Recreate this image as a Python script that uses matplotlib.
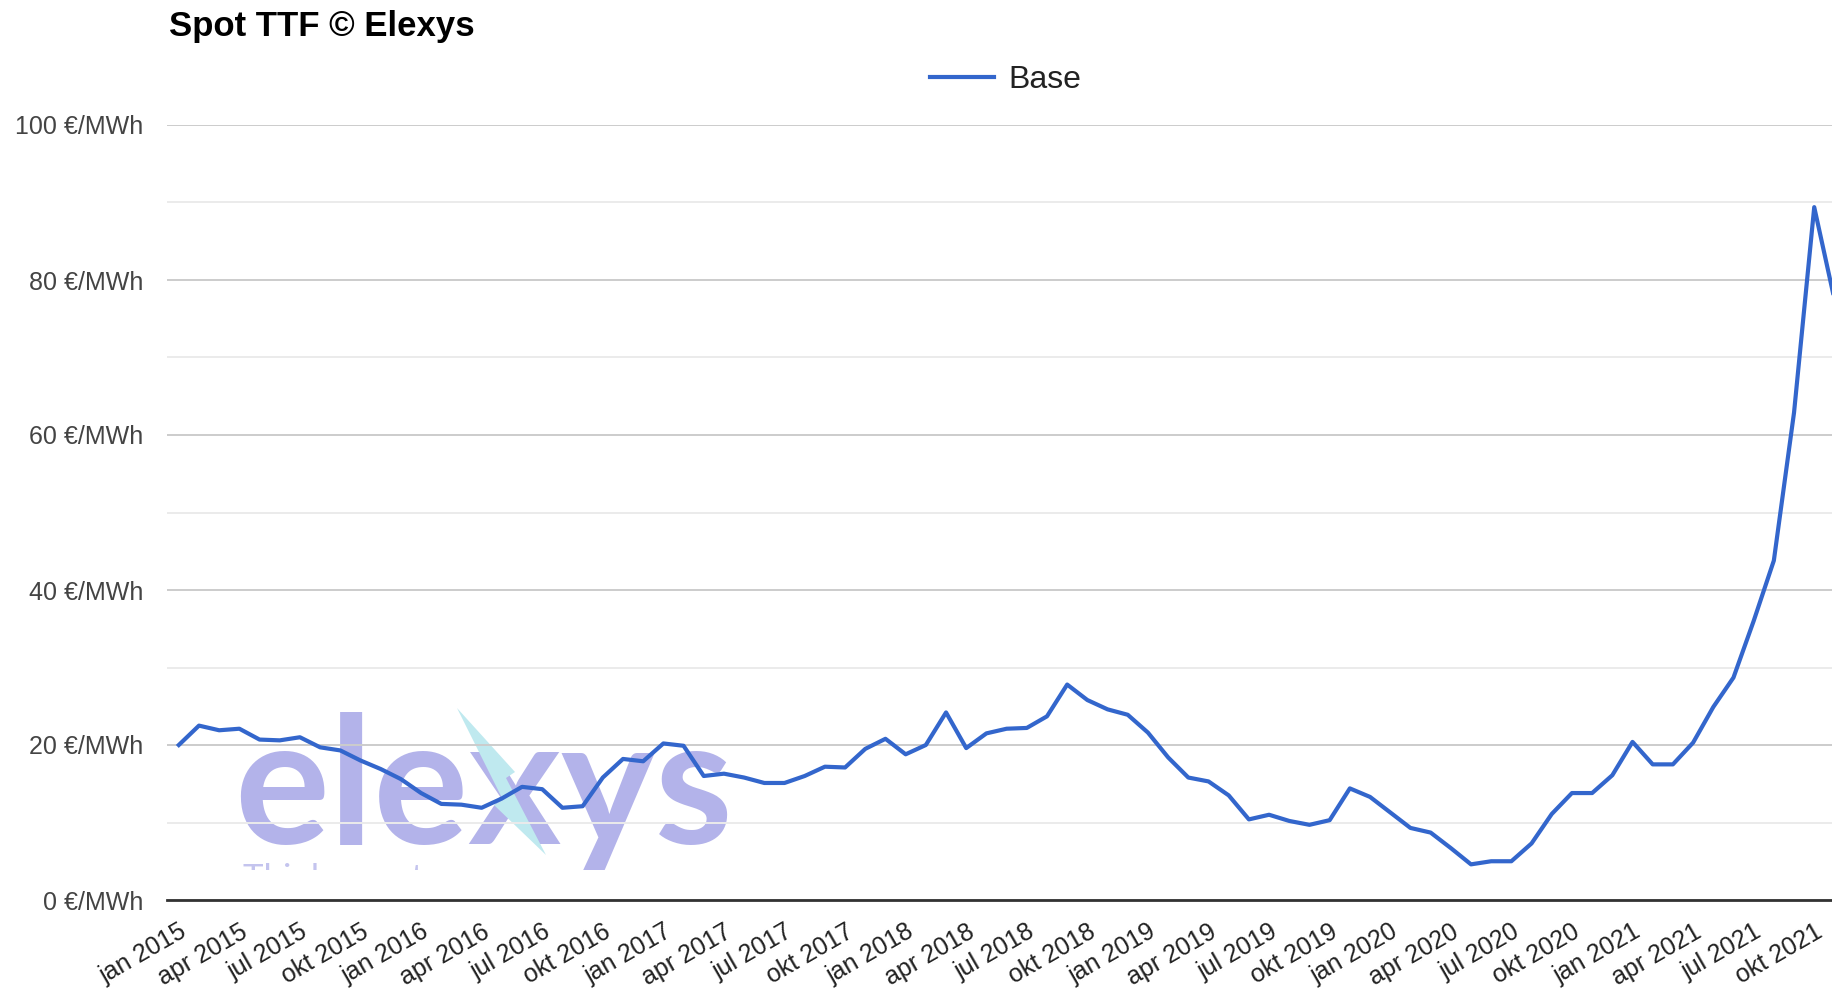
import numpy as np
import matplotlib
matplotlib.use("Agg")
import matplotlib.pyplot as plt
from matplotlib.transforms import Bbox, TransformedBbox
from matplotlib.patches import Polygon

plt.rcParams['font.family'] = ['Liberation Sans', 'DejaVu Sans']

# ---- data: monthly spot TTF base price (EUR/MWh), jan 2015 .. nov 2021 ----
base = [20.0, 22.5, 21.9, 22.1, 20.7, 20.6, 21.0, 19.7, 19.3, 18.0, 16.9, 15.6,
        13.8, 12.4, 12.3, 11.9, 13.1, 14.6, 14.3, 11.9, 12.1, 15.8, 18.2, 17.9,
        20.2, 19.9, 16.0, 16.3, 15.8, 15.1, 15.1, 16.0, 17.2, 17.1, 19.5, 20.8,
        18.8, 20.0, 24.2, 19.6, 21.5, 22.1, 22.2, 23.7, 27.8, 25.8, 24.6, 23.9,
        21.6, 18.4, 15.8, 15.3, 13.5, 10.4, 11.0, 10.2, 9.7, 10.3, 14.4, 13.3,
        11.3, 9.3, 8.7, 6.7, 4.6, 5.0, 5.0, 7.3, 11.1, 13.8, 13.8, 16.1,
        20.4, 17.5, 17.5, 20.3, 24.9, 28.7, 36.0, 43.8, 62.9, 89.4, 77.5]
month_names = ["jan", "apr", "jul", "okt"]
years = [2015, 2016, 2017, 2018, 2019, 2020, 2021]
tick_labels = [f"{m} {y}" for y in years for m in month_names]
y_ticks = [0, 20, 40, 60, 80, 100]
y_minor = [10, 30, 50, 70, 90]
series_name = "Base"
title = "Spot TTF \u00a9 Elexys"

W, H = 1832, 996
fig = plt.figure(figsize=(W / 100, H / 100), dpi=100)
fig.patch.set_facecolor("white")
ax = fig.add_axes([167 / W, 96 / H, 1 - 167 / W, (900 - 125) / H])
ax.set_facecolor("none")

x = np.arange(len(base))
line, = ax.plot(x, base, color="#3366cc", lw=3.0, solid_joinstyle="round",
                zorder=3, label=series_name)

ax.set_xlim(-0.584, 81.88)
ax.set_ylim(0, 100)

ax.set_yticks(y_ticks)
ax.set_yticklabels([f"{v} \u20ac/MWh" for v in y_ticks])
ax.set_yticks(y_minor, minor=True)
ax.set_xticks(np.arange(0, 3 * len(tick_labels), 3))
ax.set_xticklabels(tick_labels)

ax.set_axisbelow(True)
ax.grid(axis="y", which="major", color="#cccccc", lw=1.4)
ax.grid(axis="y", which="minor", color="#ebebeb", lw=1.4)
ax.tick_params(axis="y", which="both", length=0, pad=17, labelsize=18, labelcolor="#444444")
ax.tick_params(axis="x", length=0, pad=14, labelsize=18, labelcolor="#222222")
plt.setp(ax.get_xticklabels(), rotation=30, ha="right", va="top", rotation_mode="anchor")

for s in ["left", "right", "top"]:
    ax.spines[s].set_visible(False)
ax.spines["bottom"].set_color("#333333")
ax.spines["bottom"].set_linewidth(2.0)
ax.spines["bottom"].set_zorder(4)

# ---- watermark (decoration) ----
clip = TransformedBbox(Bbox([[0, 126 / H], [1, 1]]), fig.transFigure)
wm = ax.text(234 / W, 1 - 844 / H, "elexys", transform=fig.transFigure,
             fontsize=128, fontweight="bold", family=["Lato", "DejaVu Sans"],
             color="#b3b3ea", ha="left", va="baseline", zorder=0.1)
wm.set_clip_on(True)
wm.set_clip_box(clip)
wm2 = ax.text(243 / W, 1 - 863 / H, "Think smart energy", transform=fig.transFigure,
              fontsize=25, family=["Lato", "DejaVu Sans"], color="#c4c4ee",
              ha="left", va="top", zorder=0.1)
wm2.set_clip_on(True)
wm2.set_clip_box(clip)
bolt_px = [(457, 708), (515, 772), (506, 778), (546, 855), (494, 805), (503, 800)]
bolt = Polygon([(px / W, 1 - py / H) for px, py in bolt_px], closed=True,
               transform=fig.transFigure, facecolor="#bfe9ef", edgecolor="none",
               zorder=0.2)
ax.add_patch(bolt)
bolt.set_clip_on(False)

# ---- title & legend ----
fig.text(169 / W, 1 - 36 / H, title, fontsize=25, fontweight="bold",
         color="#000000", ha="left", va="baseline")
leg = fig.legend(handles=[line], labels=[series_name], loc="center",
                 bbox_to_anchor=(1006 / W, 1 - 80 / H), frameon=False,
                 fontsize=23, handlelength=2.0, handletextpad=0.45)
for t in leg.get_texts():
    t.set_color("#222222")

fig.savefig("out.png", dpi=100, facecolor="white")
